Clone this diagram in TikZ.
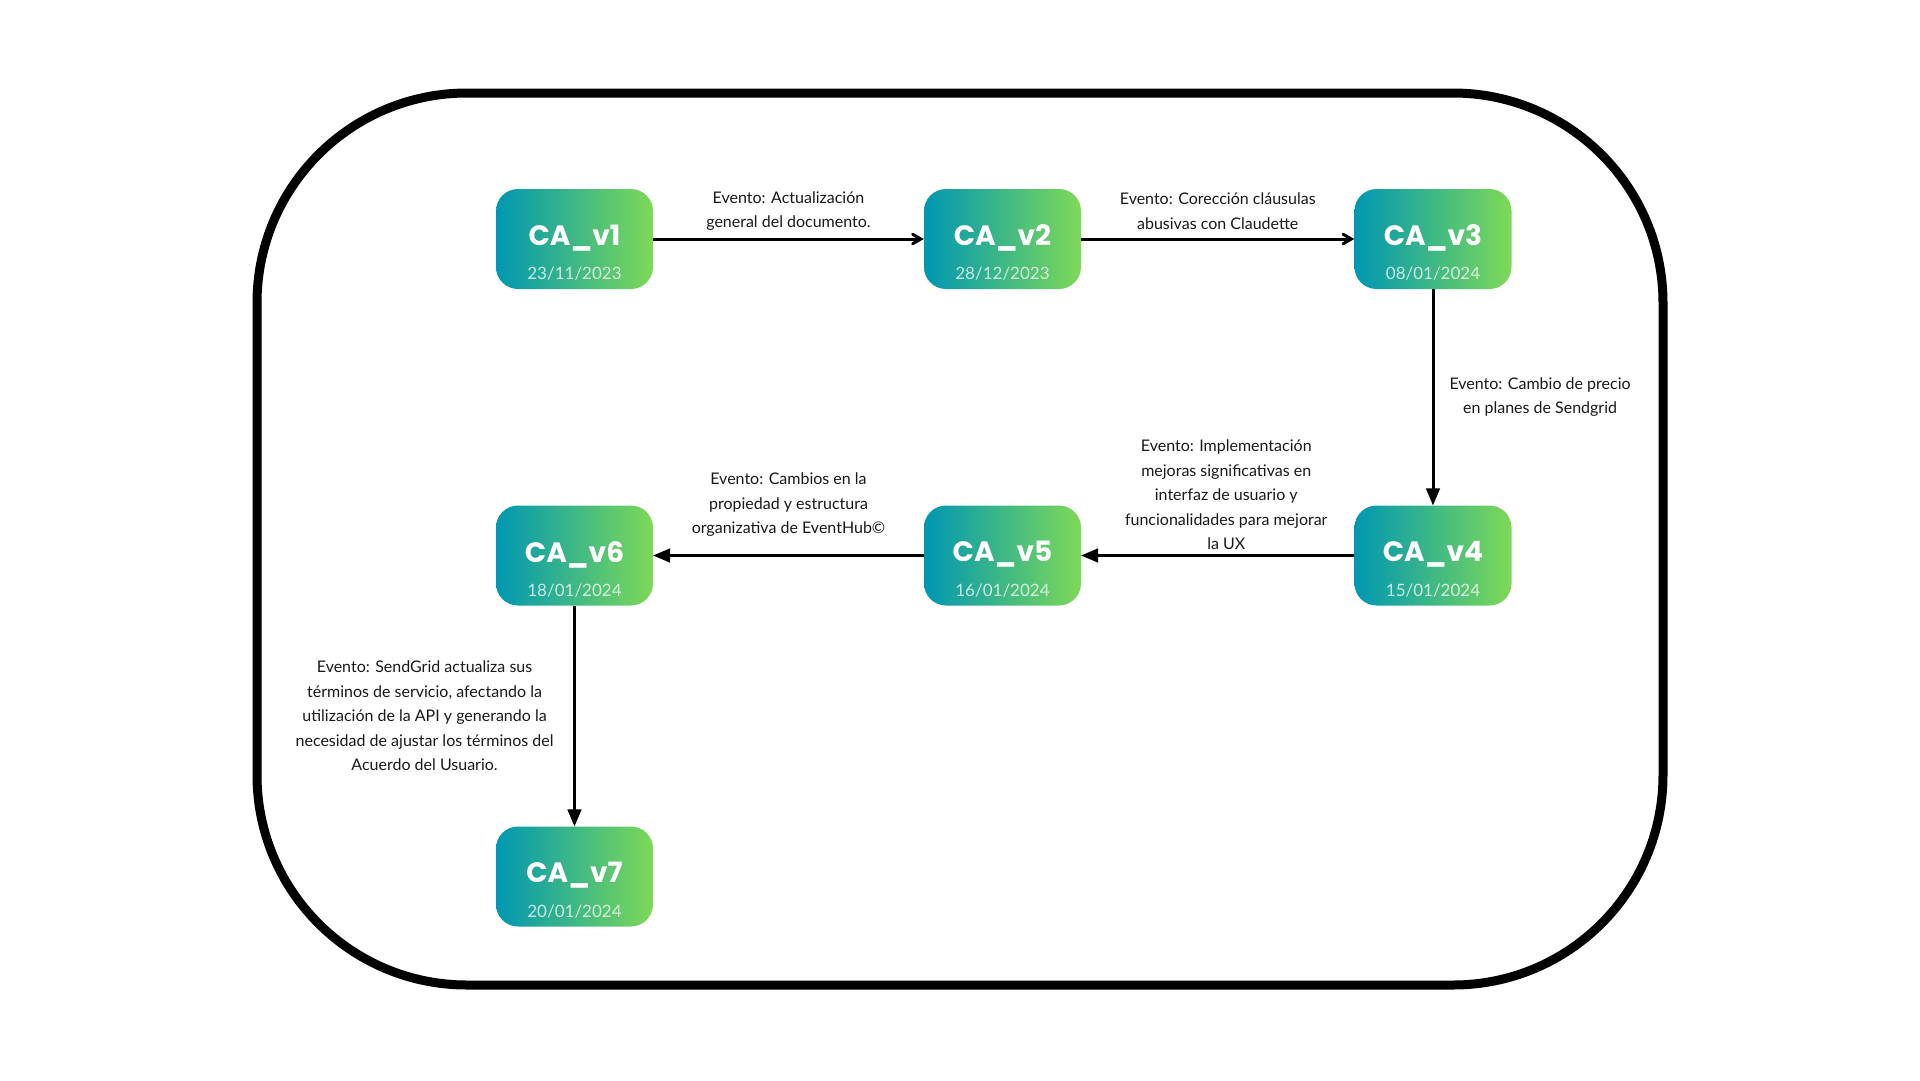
\documentclass[tikz,border=0pt]{standalone}
\usepackage{fontspec}
\setmainfont{Lato}
\newfontfamily\titlefont{Poppins}
\usetikzlibrary{arrows}

\definecolor{cateal}{HTML}{0097B2}
\definecolor{cagreen}{HTML}{7ED957}

\tikzset{
  version/.style={rectangle, rounded corners=22pt, minimum width=157pt, minimum height=100pt,
    inner sep=0pt, left color=cateal, right color=cagreen},
  vtitle/.style={yshift=1pt, inner sep=0pt, text=white,
    font=\titlefont\bfseries\fontsize{28}{30}\selectfont},
  vdate/.style={yshift=-35pt, inner sep=0pt, text=white, text opacity=0.75,
    font=\fontsize{17}{19}\selectfont},
  evento/.style={align=center, inner sep=0pt, text=black!90, font=\fontsize{16}{24.5}\selectfont},
  flow/.style={line width=3pt}
}

\begin{document}
\begin{tikzpicture}[x=1pt, y=-1pt]
  \useasboundingbox (0,0) rectangle (1920,1080);
  \draw[line width=9pt, rounded corners=210pt] (257,93) rectangle (1663,985);

  \node[version, label={[vtitle]center:CA\_v1}, label={[vdate]center:23/11/2023}] (v1) at (574.5,239) {};
  \node[version, label={[vtitle]center:CA\_v2}, label={[vdate]center:28/12/2023}] (v2) at (1002.5,239) {};
  \node[version, label={[vtitle]center:CA\_v3}, label={[vdate]center:08/01/2024}] (v3) at (1433,239) {};
  \node[version, label={[vtitle]center:CA\_v4}, label={[vdate]center:15/01/2024}] (v4) at (1433,555.5) {};
  \node[version, label={[vtitle]center:CA\_v5}, label={[vdate]center:16/01/2024}] (v5) at (1002.5,555.5) {};
  \node[version, label={[vtitle]center:CA\_v6}, label={[vdate]center:18/01/2024}] (v6) at (574.5,555.5) {};
  \node[version, label={[vtitle]center:CA\_v7}, label={[vdate]center:20/01/2024}] (v7) at (574.5,876.5) {};

  \draw[flow, -angle 60] (v1) -- (v2) node[midway, yshift=28pt, evento] {Evento: Actualización\\general del documento.};
  \draw[flow, -angle 60] (v2) -- (v3) node[midway, yshift=28pt, evento] {Evento: Corección cláusulas\\abusivas con Claudette};
  \draw[flow, -triangle 45] (v3) -- (v4) node[midway, right=15pt, evento] {Evento: Cambio de precio\\en planes de Sendgrid};
  \draw[flow, -triangle 45] (v4) -- (v5) node[midway, xshift=8.5pt, yshift=60.5pt, evento]
    {Evento: Implementación\\mejoras significativas en\\interfaz de usuario y\\funcionalidades para mejorar\\la UX};
  \draw[flow, -triangle 45] (v5) -- (v6) node[midway, yshift=50.5pt, evento]
    {Evento: Cambios en la\\propiedad y estructura\\organizativa de EventHub©};
  \draw[flow, -triangle 45] (v6) -- (v7) node[midway, left=19.5pt, evento]
    {Evento: SendGrid actualiza sus\\términos de servicio, afectando la\\utilización de la API y generando la\\necesidad de ajustar los términos del\\Acuerdo del Usuario.};
\end{tikzpicture}
\end{document}
